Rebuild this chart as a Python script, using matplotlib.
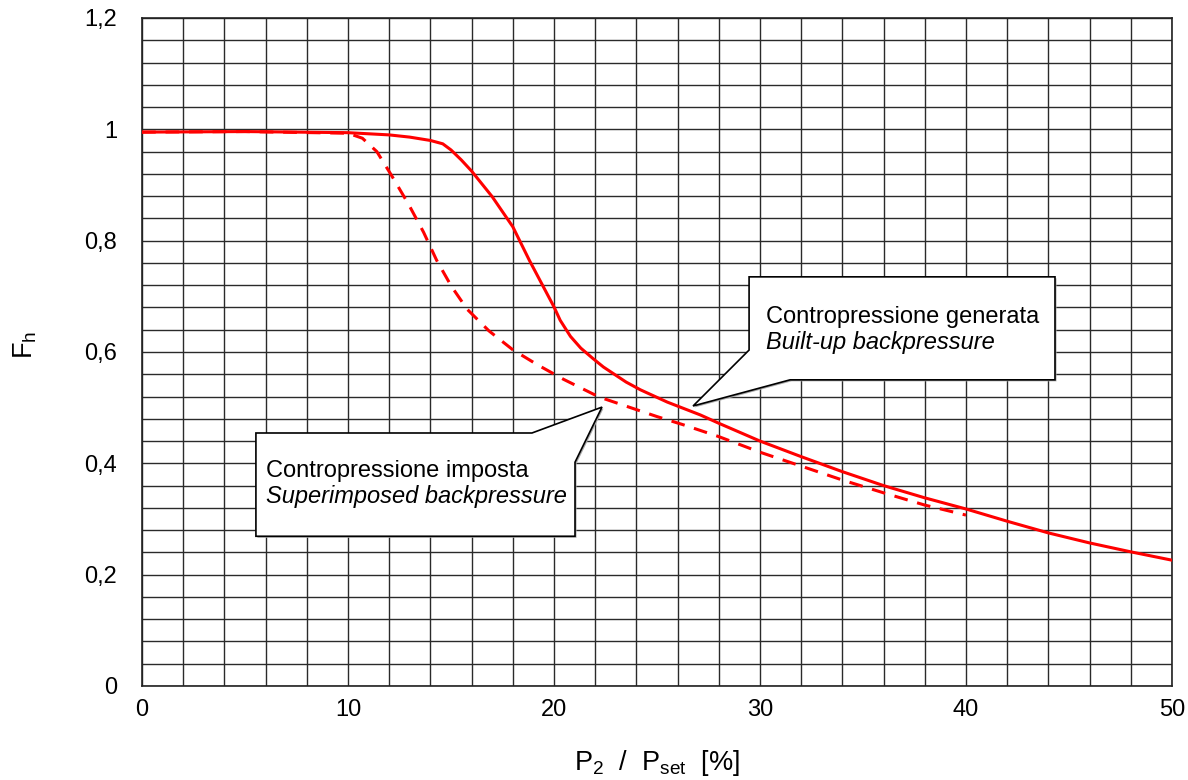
import matplotlib
matplotlib.use("Agg")
import matplotlib.pyplot as plt
from matplotlib.patches import Polygon
import matplotlib.transforms as mtransforms
import numpy as np

plt.rcParams['font.family'] = ['Liberation Sans', 'DejaVu Sans']
plt.rcParams['mathtext.fontset'] = 'custom'
plt.rcParams['mathtext.rm'] = 'Liberation Sans'
plt.rcParams['mathtext.it'] = 'Liberation Sans:italic'

# built-up backpressure (solid)
built_x = [0, 5, 10, 12, 13, 14, 14.6, 15, 15.5, 16, 17, 18, 18.8, 20, 20.3, 20.8,
           21.3, 21.9, 22.4, 23.5, 24.2, 25.5, 27.1, 28, 30, 32, 34, 36, 38, 40, 42,
           44, 46, 48, 50]
built_y = [0.995, 0.996, 0.994, 0.99, 0.986, 0.98, 0.974, 0.963, 0.945, 0.925, 0.879,
           0.825, 0.765, 0.681, 0.657, 0.628, 0.607, 0.588, 0.573, 0.546, 0.532, 0.51,
           0.487, 0.472, 0.44, 0.412, 0.385, 0.36, 0.338, 0.318, 0.296, 0.275, 0.257,
           0.241, 0.226]

# superimposed backpressure (dashed)
sup_x = [0, 5, 10, 10.7, 11.4, 12.1, 12.96, 13.67, 14.3, 15.02, 15.78, 16.84, 18.0,
         19.2, 20.46, 22.2, 23.8, 25, 26.3, 28, 30, 32, 34, 36, 38, 40]
sup_y = [0.995, 0.996, 0.993, 0.984, 0.96, 0.918, 0.864, 0.815, 0.765, 0.718, 0.677,
         0.638, 0.604, 0.577, 0.551, 0.519, 0.499, 0.484, 0.469, 0.448, 0.42, 0.395,
         0.37, 0.347, 0.325, 0.307]

x_ticks = [0, 10, 20, 30, 40, 50]
y_ticks = [0, 0.2, 0.4, 0.6, 0.8, 1.0, 1.2]
y_labels = ['0', '0,2', '0,4', '0,6', '0,8', '1', '1,2']

fig = plt.figure(figsize=(11.88, 7.80), dpi=100)
ax = fig.add_axes([142 / 1188, 1 - 686 / 780, 1030 / 1188, 668 / 780])

ax.set_xlim(0, 50)
ax.set_ylim(0, 1.2)
ax.set_xticks(x_ticks)
ax.set_xticks(np.arange(0, 50.01, 2), minor=True)
ax.set_yticks(y_ticks)
ax.set_yticklabels(y_labels)
ax.set_yticks(np.arange(0, 1.2001, 0.04), minor=True)
ax.tick_params(which='both', length=0, labelsize=17)
ax.tick_params(axis='x', pad=9)
ax.tick_params(axis='y', pad=18)
ax.grid(which='both', color='#2a2a2a', lw=1.0)
ax.set_axisbelow(True)
for s in ax.spines.values():
    s.set_color('#222222')
    s.set_linewidth(1.2)

ax.plot(built_x, built_y, color='#ff0000', lw=2.2, zorder=3)
ax.plot(sup_x, sup_y, color='#ff0000', lw=2.2, dashes=(4.5, 3.2), zorder=3)

ax.set_xlabel(r'$\mathregular{P_2\ \ /\ \ P_{set}\ \ [\%]}$', fontsize=19.5, labelpad=20)
fig.text(25 / 1188, 1 - 345 / 780, r'$\mathregular{F_h}$', fontsize=19.5, rotation=90,
         ha='center', va='center')


def callout(pts, lines, tx, ty):
    shift = ax.transData + mtransforms.ScaledTranslation(1.5 / 100, -1.5 / 100,
                                                         fig.dpi_scale_trans)
    ax.add_patch(Polygon(pts, closed=True, facecolor='#a8a8a8', edgecolor='none',
                         zorder=4, transform=shift))
    ax.add_patch(Polygon(pts, closed=True, facecolor='white', edgecolor='black',
                         lw=1.2, zorder=5))
    ax.text(tx, ty[0], lines[0], fontsize=17, zorder=6, va='baseline')
    ax.text(tx, ty[1], lines[1], fontsize=17, style='italic', zorder=6, va='baseline')


box_imposta = [(5.53, 0.4545), (18.93, 0.4545), (22.33, 0.501), (21.02, 0.402),
               (21.02, 0.269), (5.53, 0.269)]
callout(box_imposta, ['Contropressione imposta', 'Superimposed backpressure'],
        6.02, (0.375, 0.329))

box_generata = [(29.47, 0.735), (44.32, 0.735), (44.32, 0.55), (31.46, 0.55),
                (26.75, 0.503), (29.47, 0.6035)]
callout(box_generata, ['Contropressione generata', 'Built-up backpressure'],
        30.29, (0.652, 0.605))

fig.savefig('out.png', dpi=100)
